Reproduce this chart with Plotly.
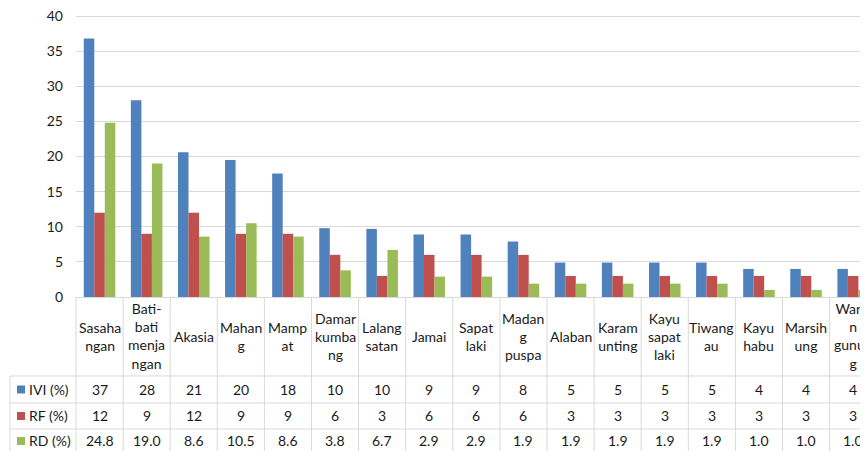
import plotly.graph_objects as go

# ---------------- data ----------------
categories = ["Sasaha<br>ngan", "Bati-<br>bati<br>menja<br>ngan", "Akasia", "Mahan<br>g",
              "Mamp<br>at", "Damar<br>kumba<br>ng", "Lalang<br>satan", "Jamai",
              "Sapat<br>laki", "Madan<br>g<br>puspa", "Alaban", "Karam<br>unting",
              "Kayu<br>sapat<br>laki", "Tiwang<br>au", "Kayu<br>habu", "Marsih<br>ung",
              "Wang<br>n<br>gunun<br>g"]
ivi = [36.8, 28.0, 20.6, 19.5, 17.6, 9.8, 9.7, 8.9, 8.9, 7.9, 4.9, 4.9, 4.9, 4.9, 4.0, 4.0, 4.0]
rf = [12, 9, 12, 9, 9, 6, 3, 6, 6, 6, 3, 3, 3, 3, 3, 3, 3]
rd = [24.8, 19.0, 8.6, 10.5, 8.6, 3.8, 6.7, 2.9, 2.9, 1.9, 1.9, 1.9, 1.9, 1.9, 1.0, 1.0, 1.0]
ivi_labels = ["37", "28", "21", "20", "18", "10", "10", "9", "9", "8", "5", "5", "5", "5", "4", "4", "4"]
rf_labels = ["12", "9", "12", "9", "9", "6", "3", "6", "6", "6", "3", "3", "3", "3", "3", "3", "3"]
rd_labels = ["24.8", "19.0", "8.6", "10.5", "8.6", "3.8", "6.7", "2.9", "2.9", "1.9", "1.9", "1.9",
             "1.9", "1.9", "1.0", "1.0", "1.0"]
series_names = ["IVI (%)", "RF (%)", "RD (%)"]
series_values = [ivi, rf, rd]
series_labels = [ivi_labels, rf_labels, rd_labels]
colors = ["#4F81BD", "#C0504D", "#9BBB59"]
y_ticks = [0, 5, 10, 15, 20, 25, 30, 35, 40]

# ---------------- layout geometry ----------------
OFF = 8                      # page body margin of the written html
W, H = 868 - OFF, 451 - OFF  # figure size so it ends at the window edge
BASE = 297                   # window pixel of the baseline
px_per_unit = 281 / 40
y_max = 40.15
L, R, B = 76 - OFF, 0, (OFF + H) - BASE
plot_h = y_max * px_per_unit
T = H - B - plot_h
plot_w = W - L - R
n = len(categories)
cat_w = 47.1
x_range = [-0.5, -0.5 + plot_w / cat_w]
FONT = "Lato"
TXT = "#1a1a1a"
GRID = "#D9D9D9"


def xp(x):
    return (x - x_range[0]) / (x_range[1] - x_range[0])


def pxx(px):
    return (px - OFF - L) / plot_w


def pyy(py):
    return (BASE - py) / plot_h


x_pos = list(range(n))

fig = go.Figure()
for name, vals, col in zip(series_names, series_values, colors):
    fig.add_trace(go.Bar(x=x_pos, y=vals, name=name, marker_color=col,
                         marker_line_width=0, showlegend=False))

shapes = []
annotations = []

# table geometry (window pixel rows)
header_top, header_bot = BASE, 376
row_edges = [376, 403, 429]
row_centers = [389.5, 416, 441]
left_px = 10
bottom_px = 460

# vertical lines at category boundaries
for i in range(n + 1):
    shapes.append(dict(type="line", xref="paper", yref="paper",
                       x0=xp(i - 0.5), x1=xp(i - 0.5), y0=pyy(header_top), y1=pyy(bottom_px),
                       line=dict(color=GRID, width=1)))
# left column line
shapes.append(dict(type="line", xref="paper", yref="paper",
                   x0=pxx(left_px), x1=pxx(left_px), y0=pyy(header_bot), y1=pyy(bottom_px),
                   line=dict(color=GRID, width=1)))
# horizontal row lines
for ry in row_edges:
    shapes.append(dict(type="line", xref="paper", yref="paper",
                       x0=pxx(left_px), x1=1.02, y0=pyy(ry), y1=pyy(ry),
                       line=dict(color=GRID, width=1)))

# header labels
for i, c in enumerate(categories):
    annotations.append(dict(xref="paper", yref="paper", x=xp(i), y=pyy((header_top + header_bot) / 2),
                            text=c, showarrow=False, xanchor="center", yanchor="middle",
                            font=dict(family=FONT, size=14, color=TXT)))

# data rows
for r, (name, labels, col) in enumerate(zip(series_names, series_labels, colors)):
    cy = row_centers[r]
    shapes.append(dict(type="rect", xref="paper", yref="paper",
                       x0=pxx(17), x1=pxx(25), y0=pyy(cy - 4), y1=pyy(cy + 4),
                       fillcolor=col, line=dict(width=0)))
    annotations.append(dict(xref="paper", yref="paper", x=pxx(27), y=pyy(cy),
                            text=name, showarrow=False, xanchor="left", yanchor="middle",
                            font=dict(family=FONT, size=14, color=TXT)))
    for i, t in enumerate(labels):
        annotations.append(dict(xref="paper", yref="paper", x=xp(i), y=pyy(cy),
                                text=t, showarrow=False, xanchor="center", yanchor="middle",
                                font=dict(family=FONT, size=14, color=TXT)))

fig.update_layout(
    width=W, height=H,
    margin=dict(l=L, r=R, t=T, b=B, pad=0),
    paper_bgcolor="white", plot_bgcolor="white",
    barmode="group", bargap=0.33, bargroupgap=0,
    shapes=shapes, annotations=annotations,
    xaxis=dict(range=x_range, showticklabels=False, showgrid=False, zeroline=False,
               showline=True, linecolor=GRID, linewidth=1, ticks=""),
    yaxis=dict(range=[0, y_max], tickvals=y_ticks, showgrid=True, gridcolor=GRID, gridwidth=1,
               zeroline=False, showline=False, ticks="", ticklabelstandoff=12,
               ticklabeloverflow="allow",
               tickfont=dict(family=FONT, size=14, color=TXT)),
    font=dict(family=FONT),
)

fig.write_html("out.html")
